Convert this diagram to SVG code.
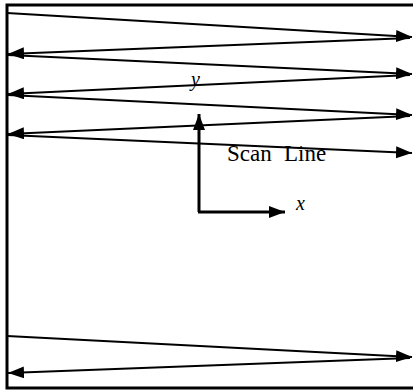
<svg xmlns="http://www.w3.org/2000/svg" width="413" height="391" viewBox="0 0 413 391">
<style>
.scan{stroke:#000;stroke-width:2;fill:none;marker-end:url(#ah)}
.axis{stroke:#000;stroke-width:3;fill:none}
.lbl{font-family:"Liberation Serif","Times New Roman",serif;fill:#000}
</style>
<defs>
<marker id="ah" markerUnits="userSpaceOnUse" markerWidth="18" markerHeight="14" refX="16" refY="6" orient="auto">
<path d="M0,0 L16,6 L0,12 Z" fill="#000"/>
</marker>
<marker id="ah2" markerUnits="userSpaceOnUse" markerWidth="18" markerHeight="14" refX="16" refY="6" orient="auto">
<path d="M0,0 L16,6 L0,12 Z" fill="#000"/>
</marker>
</defs>
<rect width="413" height="391" fill="#fff"/>
<g id="frame">
<path d="M413,5 L7,5 L7,388 L413,388" class="axis"/>
</g>
<g id="connectors">
<line x1="7" y1="13" x2="412" y2="37" class="scan"/>
<line x1="410" y1="38" x2="8" y2="54" class="scan"/>
<line x1="8" y1="55" x2="412" y2="74" class="scan"/>
<line x1="410" y1="75" x2="8" y2="94" class="scan"/>
<line x1="8" y1="95" x2="412" y2="115" class="scan"/>
<line x1="410" y1="116" x2="8" y2="134" class="scan"/>
<line x1="8" y1="135" x2="412" y2="153" class="scan"/>
<line x1="7" y1="336" x2="412" y2="357" class="scan"/>
<line x1="410" y1="358" x2="8" y2="373" class="scan"/>
</g>
<g id="axes">
<path d="M199,212 L199,114" class="axis" marker-end="url(#ah2)"/>
<path d="M198,212 L285,212" class="axis" marker-end="url(#ah2)"/>
</g>
<g id="labels">
<text x="191" y="86" class="lbl" font-size="20" font-style="italic">y</text>
<text x="296" y="210" class="lbl" font-size="20" font-style="italic">x</text>
<text x="227" y="161" class="lbl" font-size="23">Scan<tspan x="284">Line</tspan></text>
</g>
</svg>
